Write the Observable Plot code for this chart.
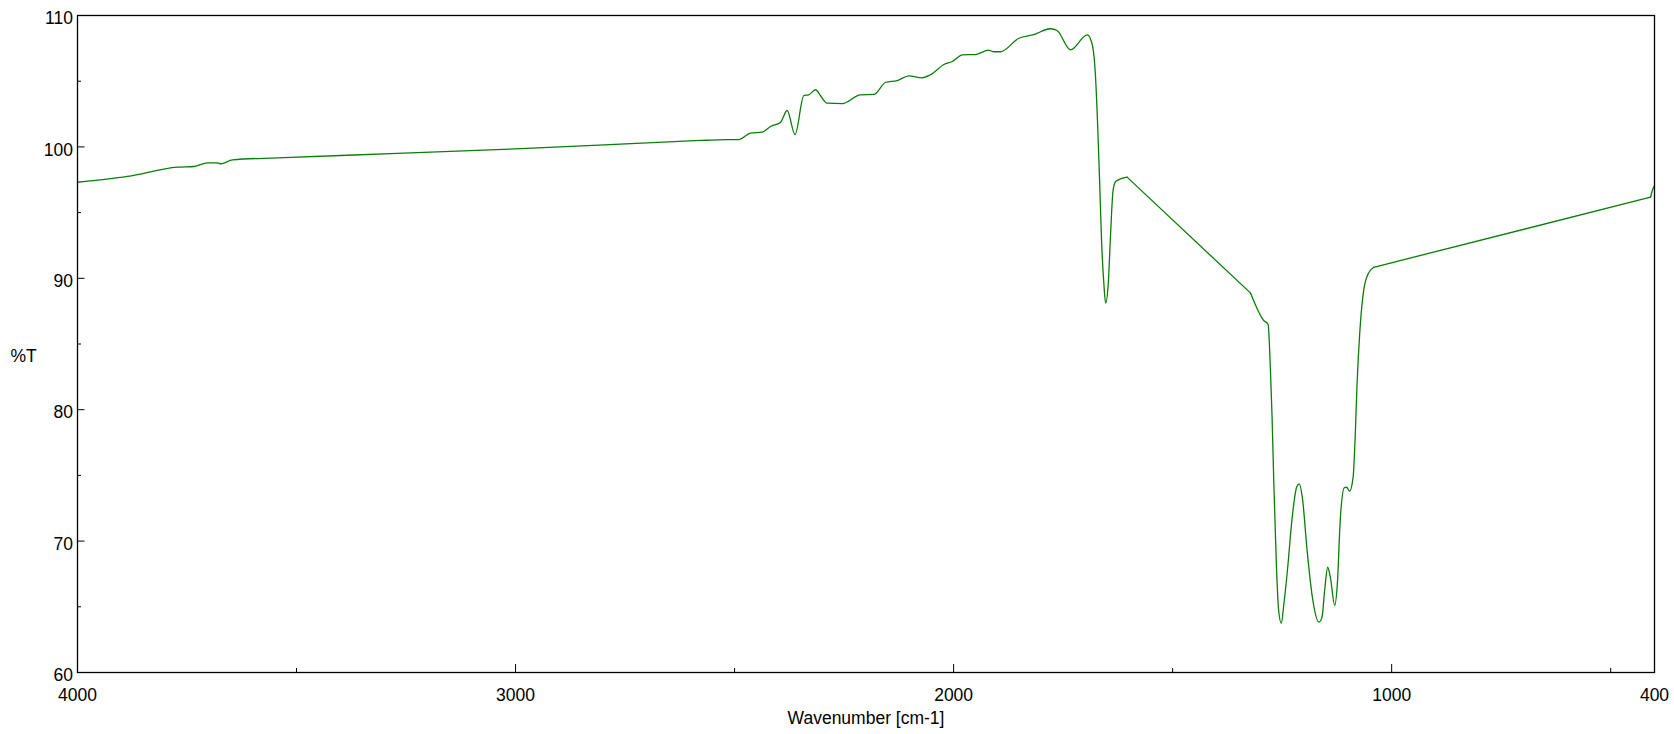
<!DOCTYPE html>
<html>
<head>
<meta charset="utf-8">
<script src="https://cdn.jsdelivr.net/npm/d3@7"></script>
<script src="https://cdn.jsdelivr.net/npm/@observablehq/plot@0.6"></script>
<style>
  html, body { margin: 0; padding: 0; background: #fff; }
  #chart { width: 1674px; height: 734px; }
</style>
</head>
<body>
<div id="chart"></div>
<script>
// Wavenumber (cm-1) and %T
const wavenumber = [
  4000, 3886, 3772, 3734, 3703, 3680, 3673, 3646, 3543, 3270, 3000,
  2578, 2540, 2490, 2464, 2437, 2418, 2395, 2380, 2362, 2342, 2331, 2315, 2304, 2289,
  2254, 2213, 2182, 2155, 2129, 2102, 2072, 2053, 2022, 2003, 1980, 1950, 1920, 1908,
  1893, 1851, 1817, 1779, 1764, 1733, 1695, 1684, 1676, 1671, 1667, 1662, 1657, 1653,
  1647, 1642, 1636, 1630, 1604, 1322, 1292, 1282, 1277, 1273, 1269, 1263, 1258,
  1252, 1246, 1238, 1227, 1217, 1211, 1204, 1193, 1181, 1166, 1159, 1153, 1146, 1140,
  1130, 1124, 1117, 1108, 1103, 1096, 1088, 1083, 1079, 1073, 1065, 1057, 1041,
  409, 405, 400
];
const transmittance = [
  97.31, 97.75, 98.46, 98.51, 98.79, 98.79, 98.71, 99.02, 99.17, 99.50, 99.85,
  100.49, 100.54, 100.56, 101.04, 101.12, 101.55, 101.88, 102.77, 100.94, 103.91, 103.96, 104.35, 103.91, 103.33,
  103.30, 103.96, 103.99, 104.92, 105.05, 105.41, 105.26, 105.49, 106.27, 106.5, 107.0, 107.03, 107.36, 107.24,
  107.24, 108.27, 108.55, 108.99, 108.86, 107.39, 108.53, 107.85, 105.3, 101.5, 97.7, 92.63, 89.58, 88.11,
  89.58, 93.13, 96.68, 97.37, 97.7, 88.87, 86.79, 86.48, 83.23, 79.43, 74.36, 68.01, 64.72,
  63.75, 65.23, 67.76, 71.82, 74.10, 74.36, 73.34, 69.28, 65.73, 63.83, 64.21, 66.24, 68.01, 67.25,
  65.1, 66.75, 71.82, 74.06, 74.1, 73.8, 74.87, 78.17, 81.97, 85.78, 88.82, 90.08, 90.84,
  96.17, 96.68, 97.06
];
// wavenumber ranges where the recorded trace is a straight segment
const straightRanges = [[1604, 1322], [1041, 409]];

const xMajorTicks = [4000, 3000, 2000, 1000, 400];
const xMinorTicks = [3500, 2500, 1500, 500];
const yMajorTicks = [60, 70, 80, 90, 100, 110];
const yMinorTicks = [65, 75, 85, 95, 105];

const xTitle = "Wavenumber [cm-1]";
const yTitle = "%T";

const spectrum = wavenumber.map((w, i) => ({w, t: transmittance[i]}));

// split the trace into smooth and straight pieces (sharing end points)
const smoothPieces = [];
const straightPieces = [];
{
  let piece = 0;
  const bounds = straightRanges.flat();
  let current = [];
  let straight = false;
  spectrum.forEach((d) => {
    current.push({...d, piece});
    const bi = bounds.indexOf(d.w);
    if (bi >= 0) {
      (straight ? straightPieces : smoothPieces).push(...current);
      piece++;
      current = [{...d, piece}];
      straight = !straight;
    }
  });
  (straight ? straightPieces : smoothPieces).push(...current);
}

const blank = () => "";
const green = "#0a7d0a";

const chart = Plot.plot({
  width: 1674,
  height: 734,
  marginLeft: 77,
  marginRight: 20,
  marginTop: 15,
  marginBottom: 62,
  style: {
    fontFamily: "'Liberation Sans', Arial, sans-serif",
    fontSize: "17.5px",
    color: "#000",
    background: "#fff",
    overflow: "visible"
  },
  x: {domain: [4000, 400]},
  y: {domain: [60, 110]},
  marks: [
    Plot.line(smoothPieces, {x: "w", y: "t", z: "piece", stroke: green, strokeWidth: 1.3, curve: "monotone-x"}),
    Plot.line(straightPieces, {x: "w", y: "t", z: "piece", stroke: green, strokeWidth: 1.3, curve: "linear"}),
    // x ticks (inward)
    Plot.axisX({ticks: xMajorTicks, tickSize: 8, dy: -8, tickFormat: blank, label: null, stroke: "#000"}),
    Plot.axisX({ticks: xMinorTicks, tickSize: 4, dy: -4, tickFormat: blank, label: null, stroke: "#000"}),
    Plot.axisX({ticks: xMajorTicks, tickSize: 0, tickPadding: 16, label: null, tickFormat: d => String(d), fill: "#000"}),
    // y ticks (inward)
    Plot.axisY({ticks: yMajorTicks, tickSize: 7.5, dx: 7.5, tickFormat: blank, label: null, stroke: "#000"}),
    Plot.axisY({ticks: yMinorTicks, tickSize: 4, dx: 4, tickFormat: blank, label: null, stroke: "#000"}),
    Plot.axisY({ticks: yMajorTicks, tickSize: 0, tickPadding: 4.5, dy: 3, label: null, tickFormat: d => String(d), fill: "#000"}),
    Plot.frame({stroke: "#000", strokeWidth: 1.3}),
    Plot.text([xTitle], {frameAnchor: "bottom", dy: 51, fill: "#000", fontSize: 17.5}),
    Plot.text([yTitle], {frameAnchor: "left", dx: -67, dy: 12.5, textAnchor: "start", fill: "#000", fontSize: 17.5})
  ]
});
document.getElementById("chart").appendChild(chart);
</script>
</body>
</html>
